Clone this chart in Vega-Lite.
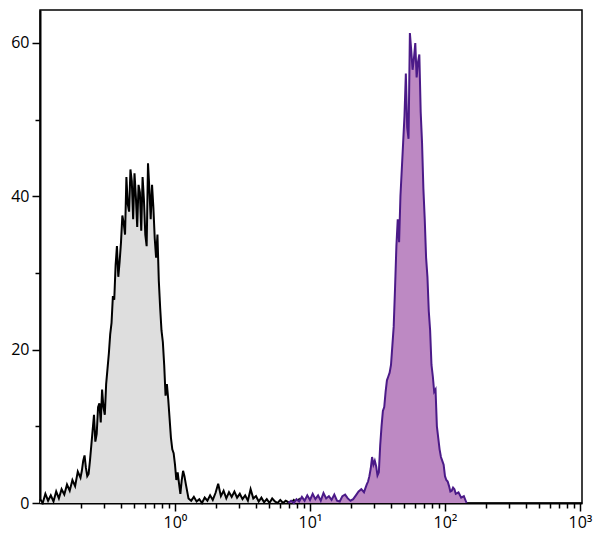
{
  "$schema": "https://vega.github.io/schema/vega-lite/v6.json",
  "width": 542,
  "height": 493,
  "autosize": {"type": "none"},
  "padding": {"left": 40, "top": 10, "right": 18, "bottom": 49},
  "background": "white",
  "config": {
    "view": {"stroke": "black", "strokeWidth": 1.5},
    "axis": {"labelFont": "Open Sans", "labelFontSize": 16, "labelColor": "black", "domainColor": "black", "domainWidth": 2, "tickColor": "black", "tickWidth": 1.5, "grid": false, "title": null}
  },
  "datasets": {
    "control": [
      {"x": 0.1, "y": 0.5}, {"x": 0.1047, "y": 0.0}, {"x": 0.1096, "y": 1.2}, {"x": 0.1148, "y": 0.3}, {"x": 0.1202, "y": 1.0},
      {"x": 0.1259, "y": 0.2}, {"x": 0.1318, "y": 1.5}, {"x": 0.138, "y": 0.6}, {"x": 0.1445, "y": 1.8}, {"x": 0.1514, "y": 1.1},
      {"x": 0.1585, "y": 2.4}, {"x": 0.166, "y": 1.6}, {"x": 0.1738, "y": 3.0}, {"x": 0.182, "y": 2.2}, {"x": 0.1905, "y": 4.1},
      {"x": 0.1995, "y": 3.3}, {"x": 0.2089, "y": 5.5}, {"x": 0.2188, "y": 4.6}, {"x": 0.2291, "y": 3.8}, {"x": 0.2399, "y": 7.5},
      {"x": 0.2512, "y": 11.5}, {"x": 0.263, "y": 9.0}, {"x": 0.2754, "y": 13.0}, {"x": 0.2884, "y": 14.8}, {"x": 0.302, "y": 11.5},
      {"x": 0.3162, "y": 17.5}, {"x": 0.3311, "y": 22.0}, {"x": 0.3467, "y": 27.0}, {"x": 0.3631, "y": 31.0}, {"x": 0.3802, "y": 29.5},
      {"x": 0.3981, "y": 34.0}, {"x": 0.4169, "y": 36.5}, {"x": 0.4365, "y": 42.5}, {"x": 0.4571, "y": 38.0}, {"x": 0.4786, "y": 42.0},
      {"x": 0.5012, "y": 43.0}, {"x": 0.5248, "y": 36.0}, {"x": 0.5495, "y": 40.5}, {"x": 0.5754, "y": 42.5}, {"x": 0.6026, "y": 35.0},
      {"x": 0.631, "y": 44.3}, {"x": 0.6607, "y": 37.0}, {"x": 0.6918, "y": 38.5}, {"x": 0.7244, "y": 32.0}, {"x": 0.7586, "y": 29.0},
      {"x": 0.7943, "y": 22.5}, {"x": 0.8318, "y": 18.0}, {"x": 0.871, "y": 15.5}, {"x": 0.912, "y": 11.0}, {"x": 0.955, "y": 7.0},
      {"x": 1.0, "y": 5.0}, {"x": 1.047, "y": 4.0}, {"x": 1.096, "y": 1.2}, {"x": 1.148, "y": 4.2}, {"x": 1.202, "y": 2.5},
      {"x": 1.259, "y": 0.6}, {"x": 1.318, "y": 0.3}, {"x": 1.38, "y": 0.8}, {"x": 1.445, "y": 0.2}, {"x": 1.514, "y": 0.5},
      {"x": 1.585, "y": 0.0}, {"x": 1.66, "y": 0.7}, {"x": 1.738, "y": 0.3}, {"x": 1.82, "y": 1.0}, {"x": 1.905, "y": 0.4},
      {"x": 1.995, "y": 1.3}, {"x": 2.089, "y": 2.5}, {"x": 2.188, "y": 0.9}, {"x": 2.291, "y": 1.6}, {"x": 2.399, "y": 0.6},
      {"x": 2.512, "y": 1.4}, {"x": 2.63, "y": 0.8}, {"x": 2.754, "y": 1.5}, {"x": 2.884, "y": 0.7}, {"x": 3.02, "y": 1.2},
      {"x": 3.162, "y": 0.5}, {"x": 3.311, "y": 1.0}, {"x": 3.467, "y": 0.3}, {"x": 3.631, "y": 1.8}, {"x": 3.802, "y": 0.6},
      {"x": 3.981, "y": 0.9}, {"x": 4.169, "y": 0.2}, {"x": 4.365, "y": 0.7}, {"x": 4.571, "y": 0.1}, {"x": 4.786, "y": 0.5},
      {"x": 5.012, "y": 0.0}, {"x": 5.248, "y": 0.6}, {"x": 5.495, "y": 0.2}, {"x": 5.754, "y": 0.0}, {"x": 6.026, "y": 0.4},
      {"x": 6.31, "y": 0.0}, {"x": 6.607, "y": 0.3}, {"x": 6.918, "y": 0.1}, {"x": 7.244, "y": 0.0}, {"x": 7.586, "y": 0.4},
      {"x": 7.943, "y": 0.0}, {"x": 8.318, "y": 0.5}, {"x": 8.71, "y": 0.0}, {"x": 9.12, "y": 0.2}, {"x": 9.55, "y": 0.0},
      {"x": 10.0, "y": 0.0},
      {"x": 0.2042, "y": 4.2}, {"x": 0.2138, "y": 6.2}, {"x": 0.2239, "y": 3.5}, {"x": 0.2344, "y": 5.5}, {"x": 0.2455, "y": 9.5},
      {"x": 0.257, "y": 8.0}, {"x": 0.2692, "y": 12.5}, {"x": 0.2818, "y": 10.5}, {"x": 0.2951, "y": 12.5}, {"x": 0.309, "y": 15.5},
      {"x": 0.3236, "y": 19.5}, {"x": 0.3388, "y": 23.5}, {"x": 0.3548, "y": 26.5}, {"x": 0.3715, "y": 33.5}, {"x": 0.389, "y": 31.5},
      {"x": 0.4074, "y": 37.5}, {"x": 0.4266, "y": 35.0}, {"x": 0.4467, "y": 39.0}, {"x": 0.4677, "y": 43.5}, {"x": 0.4898, "y": 37.0},
      {"x": 0.5129, "y": 40.0}, {"x": 0.537, "y": 41.5}, {"x": 0.5623, "y": 35.5}, {"x": 0.5888, "y": 39.5}, {"x": 0.6166, "y": 33.5},
      {"x": 0.6457, "y": 41.0}, {"x": 0.6761, "y": 41.5}, {"x": 0.7079, "y": 34.5}, {"x": 0.7413, "y": 35.0}, {"x": 0.7762, "y": 25.5},
      {"x": 0.8128, "y": 21.0}, {"x": 0.8511, "y": 14.0}, {"x": 0.8913, "y": 13.5}, {"x": 0.9333, "y": 8.5}, {"x": 0.9772, "y": 6.5},
      {"x": 1.023, "y": 3.0}, {"x": 1.072, "y": 2.5}, {"x": 1.122, "y": 3.0}, {"x": 1.175, "y": 3.5}
    ],
    "stained": [
      {"x": 6.918, "y": 0.0}, {"x": 7.244, "y": 0.3}, {"x": 7.586, "y": 0.0}, {"x": 7.943, "y": 0.5}, {"x": 8.318, "y": 0.2},
      {"x": 8.71, "y": 0.8}, {"x": 9.12, "y": 0.3}, {"x": 9.55, "y": 1.0}, {"x": 10.0, "y": 0.4}, {"x": 10.47, "y": 1.2},
      {"x": 10.96, "y": 0.5}, {"x": 11.48, "y": 1.0}, {"x": 12.02, "y": 0.3}, {"x": 12.59, "y": 1.3}, {"x": 13.18, "y": 0.6},
      {"x": 13.8, "y": 0.9}, {"x": 14.45, "y": 0.4}, {"x": 15.14, "y": 1.1}, {"x": 15.85, "y": 0.3}, {"x": 16.6, "y": 0.2},
      {"x": 17.38, "y": 0.9}, {"x": 18.2, "y": 1.1}, {"x": 19.05, "y": 0.6}, {"x": 19.95, "y": 0.3}, {"x": 20.89, "y": 0.5},
      {"x": 21.88, "y": 1.0}, {"x": 22.91, "y": 1.5}, {"x": 23.99, "y": 1.8}, {"x": 25.12, "y": 1.4}, {"x": 26.3, "y": 2.4},
      {"x": 27.54, "y": 3.5}, {"x": 28.84, "y": 6.0}, {"x": 30.2, "y": 5.5}, {"x": 31.62, "y": 3.6}, {"x": 33.11, "y": 7.5},
      {"x": 34.67, "y": 12.0}, {"x": 36.31, "y": 14.5}, {"x": 38.02, "y": 16.5}, {"x": 39.81, "y": 18.0}, {"x": 41.69, "y": 23.0},
      {"x": 43.65, "y": 33.5}, {"x": 45.71, "y": 34.0}, {"x": 47.86, "y": 43.5}, {"x": 50.12, "y": 50.5}, {"x": 52.48, "y": 49.0},
      {"x": 54.95, "y": 61.3}, {"x": 57.54, "y": 56.5}, {"x": 60.26, "y": 60.0}, {"x": 63.1, "y": 57.5}, {"x": 66.07, "y": 51.0},
      {"x": 69.18, "y": 41.0}, {"x": 72.44, "y": 32.0}, {"x": 75.86, "y": 25.0}, {"x": 79.43, "y": 18.0}, {"x": 83.18, "y": 14.5},
      {"x": 87.1, "y": 10.0}, {"x": 91.2, "y": 7.0}, {"x": 95.5, "y": 5.5}, {"x": 100.0, "y": 3.5}, {"x": 104.7, "y": 2.8},
      {"x": 109.6, "y": 1.5}, {"x": 114.8, "y": 2.0}, {"x": 120.2, "y": 1.2}, {"x": 125.9, "y": 1.4}, {"x": 131.8, "y": 0.7},
      {"x": 138.0, "y": 0.9}, {"x": 144.5, "y": 0.0},
      {"x": 25.7, "y": 1.9}, {"x": 26.92, "y": 2.8}, {"x": 28.18, "y": 4.5}, {"x": 29.51, "y": 5.0}, {"x": 30.9, "y": 4.8},
      {"x": 32.36, "y": 4.0}, {"x": 33.88, "y": 10.0}, {"x": 35.48, "y": 12.5}, {"x": 37.15, "y": 16.0}, {"x": 38.9, "y": 17.0},
      {"x": 40.74, "y": 20.5}, {"x": 42.66, "y": 28.0}, {"x": 44.67, "y": 37.0}, {"x": 46.77, "y": 40.0}, {"x": 48.98, "y": 47.0},
      {"x": 51.29, "y": 56.0}, {"x": 53.7, "y": 47.5}, {"x": 56.23, "y": 59.0}, {"x": 58.88, "y": 58.0}, {"x": 61.66, "y": 55.5},
      {"x": 64.57, "y": 58.5}, {"x": 67.61, "y": 47.0}, {"x": 70.79, "y": 37.0}, {"x": 74.13, "y": 29.5}, {"x": 77.62, "y": 22.5},
      {"x": 81.28, "y": 16.5}, {"x": 85.11, "y": 14.8}, {"x": 89.13, "y": 8.5}, {"x": 93.33, "y": 6.0}, {"x": 97.72, "y": 5.0},
      {"x": 102.3, "y": 3.0}, {"x": 107.2, "y": 2.2}, {"x": 112.2, "y": 1.6}, {"x": 117.5, "y": 1.8}
    ]
  },
  "encoding": {
    "x": {
      "field": "x", "type": "quantitative",
      "scale": {"type": "log", "domain": [0.1, 1035], "nice": false, "zero": false},
      "axis": {
        "values": [0.2, 0.3, 0.4, 0.5, 0.6, 0.7, 0.8, 0.9, 1, 2, 3, 4, 5, 6, 7, 8, 9, 10, 20, 30, 40, 50, 60, 70, 80, 90, 100, 200, 300, 400, 500, 600, 700, 800, 900, 1000],
        "labelExpr": "datum.value == 1 ? '10⁰' : datum.value == 10 ? '10¹' : datum.value == 100 ? '10²' : datum.value == 1000 ? '10³' : ''",
        "tickSize": {"condition": {"test": "datum.value == 1 || datum.value == 10 || datum.value == 100 || datum.value == 1000", "value": 8}, "value": 5},
        "labelPadding": 3,
        "labelFlush": false,
        "labelOverlap": false
      }
    },
    "y": {
      "field": "y", "type": "quantitative",
      "scale": {"domain": [0, 64.3], "nice": false},
      "axis": {
        "values": [0, 10, 20, 30, 40, 50, 60],
        "labelExpr": "datum.value % 20 == 0 ? datum.label : ''",
        "tickSize": {"condition": {"test": "datum.value % 20 == 0", "value": 8}, "value": 5},
        "labelPadding": 3,
        "labelOverlap": false
      }
    }
  },
  "layer": [
    {"data": {"name": "control"}, "mark": {"type": "area", "color": "#dedede"}},
    {"data": {"name": "control"}, "mark": {"type": "line", "color": "black", "strokeWidth": 2}},
    {"data": {"name": "stained"}, "mark": {"type": "area", "color": "#bd89c3"}},
    {"data": {"name": "stained"}, "mark": {"type": "line", "color": "#4b1a88", "strokeWidth": 2}}
  ]
}
